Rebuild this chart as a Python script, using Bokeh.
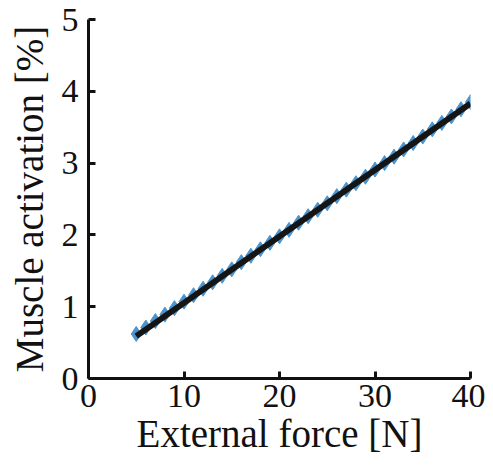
from bokeh.plotting import figure
from bokeh.models import Range1d, FixedTicker
from bokeh.embed import file_html
from bokeh.resources import INLINE

force = [5, 6, 7, 8, 9, 10, 11, 12, 13, 14, 15, 16, 17, 18, 19, 20, 21, 22, 23, 24,
         25, 26, 27, 28, 29, 30, 31, 32, 33, 34, 35, 36, 37, 38, 39, 40]
activation = [0.62, 0.71, 0.80, 0.89, 0.98, 1.07, 1.16, 1.25, 1.34, 1.43, 1.52, 1.62,
              1.71, 1.80, 1.89, 1.98, 2.07, 2.17, 2.26, 2.35, 2.44, 2.54, 2.63, 2.72,
              2.81, 2.91, 3.00, 3.09, 3.19, 3.28, 3.37, 3.47, 3.56, 3.65, 3.75, 3.85]
fit_x = [5, 40]
fit_y = [0.59, 3.83]
x_ticks = [0, 10, 20, 30, 40]
y_ticks = [0, 1, 2, 3, 4, 5]

p = figure(width=485, height=457, output_backend="svg", toolbar_location=None,
           x_range=Range1d(0, 40), y_range=Range1d(0, 5),
           min_border_left=88, min_border_top=19, min_border_right=15, min_border_bottom=78)
p.outline_line_color = None
p.xgrid.grid_line_color = None
p.ygrid.grid_line_color = None

p.scatter(force, activation, marker="diamond", size=15, fill_color="#4a94d0",
          line_color="#4a94d0")
p.line(fit_x, fit_y, line_color="#151515", line_width=6)

font = "Liberation Serif"
for ax, ticks in ((p.xaxis, x_ticks), (p.yaxis, y_ticks)):
    ax.ticker = FixedTicker(ticks=ticks)
    ax.axis_line_width = 3
    ax.axis_line_color = "#111111"
    ax.major_tick_line_width = 3
    ax.major_tick_line_color = "#111111"
    ax.major_tick_in = 7
    ax.major_tick_out = 0
    ax.minor_tick_line_color = None
    ax.major_label_text_font = font
    ax.major_label_text_font_size = "34px"
    ax.major_label_text_color = "#111111"
    ax.axis_label_text_font = font
    ax.axis_label_text_font_size = "39px"
    ax.axis_label_text_font_style = "normal"
    ax.axis_label_text_color = "#111111"

p.xaxis.axis_label = "External force [N]"
p.yaxis.axis_label = "Muscle activation [%]"
p.xaxis.major_label_standoff = 6
p.yaxis.major_label_standoff = 10
p.xaxis.axis_label_standoff = 2
p.yaxis.axis_label_standoff = 8

open("out.html", "w").write(file_html(p, INLINE))
